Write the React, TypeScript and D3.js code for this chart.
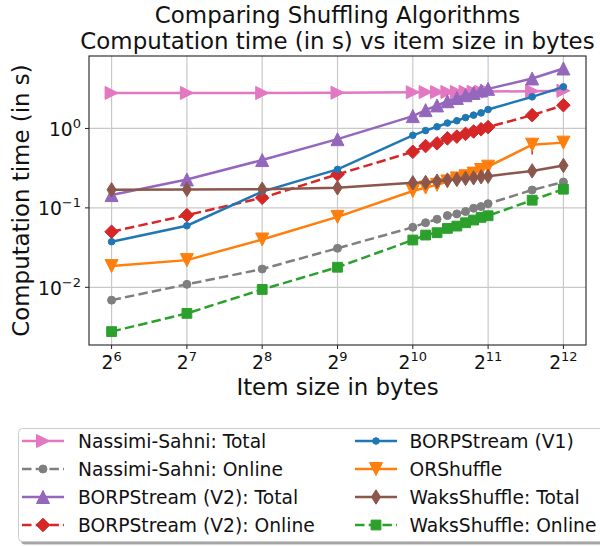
import React from "react";
import * as d3 from "d3";

const sizes = [64, 128, 256, 512, 1024, 1152, 1280, 1408, 1536, 1664, 1792, 1920, 2048, 3072, 4096];

const nsTotal = [2.8, 2.8, 2.8, 2.82, 2.86, 2.87, 2.87, 2.88, 2.88, 2.89, 2.9, 2.9, 2.91, 2.95, 2.98];
const nsOnline = [0.0069, 0.0109, 0.017, 0.031, 0.057, 0.065, 0.072, 0.08, 0.084, 0.09, 0.099, 0.104, 0.113, 0.168, 0.212];
const v2Total = [0.145, 0.228, 0.4, 0.733, 1.43, 1.7, 1.95, 2.2, 2.42, 2.62, 2.8, 3.0, 3.15, 4.26, 5.69];
const v2Online = [0.05, 0.081, 0.134, 0.264, 0.508, 0.6, 0.65, 0.75, 0.79, 0.855, 0.915, 0.975, 1.04, 1.47, 1.96];
const v1 = [0.0375, 0.0596, 0.16, 0.305, 0.82, 0.94, 1.05, 1.17, 1.25, 1.37, 1.47, 1.57, 1.73, 2.5, 3.34];
const orShuffle = [0.0185, 0.022, 0.04, 0.077, 0.163, 0.18, 0.195, 0.215, 0.235, 0.25, 0.27, 0.3, 0.33, 0.625, 0.663];
const wsTotal = [0.169, 0.171, 0.172, 0.179, 0.207, 0.209, 0.217, 0.224, 0.228, 0.235, 0.239, 0.246, 0.25, 0.292, 0.342];
const wsOnline = [0.00277, 0.0047, 0.0094, 0.0179, 0.0394, 0.0455, 0.0487, 0.0552, 0.059, 0.065, 0.0703, 0.076, 0.0796, 0.125, 0.172];

const errX = [3072];
const errLow = [0.47];
const errHigh = [0.76];

const xTickExps = [6, 7, 8, 9, 10, 11, 12];
const yTickExps = [-2, -1, 0];

const labels = [
  "Nassimi-Sahni: Total",
  "Nassimi-Sahni: Online",
  "BORPStream (V2): Total",
  "BORPStream (V2): Online",
  "BORPStream (V1)",
  "ORShuffle",
  "WaksShuffle: Total",
  "WaksShuffle: Online",
];

type MarkerKind = "right" | "circle" | "up" | "diamond" | "dot" | "down" | "thin" | "square";

const series: { label: string; values: number[]; color: string; dashed: boolean; marker: MarkerKind }[] = [
  { label: labels[0], values: nsTotal, color: "#e377c2", dashed: false, marker: "right" },
  { label: labels[1], values: nsOnline, color: "#7f7f7f", dashed: true, marker: "circle" },
  { label: labels[2], values: v2Total, color: "#9467bd", dashed: false, marker: "up" },
  { label: labels[3], values: v2Online, color: "#d62728", dashed: true, marker: "diamond" },
  { label: labels[4], values: v1, color: "#1f77b4", dashed: false, marker: "dot" },
  { label: labels[5], values: orShuffle, color: "#ff7f0e", dashed: false, marker: "down" },
  { label: labels[6], values: wsTotal, color: "#8c564b", dashed: false, marker: "thin" },
  { label: labels[7], values: wsOnline, color: "#2ca02c", dashed: true, marker: "square" },
];

function markerPath(kind: MarkerKind): string {
  const s = 13;
  const h = s / 2;
  switch (kind) {
    case "right":
      return `M${h},0L${-h},${-h}L${-h},${h}Z`;
    case "up":
      return `M0,${-h}L${h},${h}L${-h},${h}Z`;
    case "down":
      return `M0,${h}L${h},${-h}L${-h},${-h}Z`;
    case "diamond":
      return `M0,-6.8L6.8,0L0,6.8L-6.8,0Z`;
    case "thin":
      return `M0,-7.2L4.6,0L0,7.2L-4.6,0Z`;
    case "square":
      return `M-4.9,-4.9L4.9,-4.9L4.9,4.9L-4.9,4.9Z`;
    case "circle":
      return d3.symbol(d3.symbolCircle, Math.PI * 4 * 4)() as string;
    case "dot":
      return d3.symbol(d3.symbolCircle, Math.PI * 3.3 * 3.3)() as string;
  }
}

const FONT = "DejaVu Sans, Verdana, sans-serif";

export default function App() {
  const left = 89,
    right = 586,
    top = 56,
    bottom = 345;
  const x = d3.scaleLog().base(2).domain([Math.pow(2, 5.7), Math.pow(2, 12.3)]).range([left, right]);
  const y = d3.scaleLog().domain([Math.pow(10, -2.726), Math.pow(10, 0.912)]).range([bottom, top]);
  const line = d3
    .line<number>()
    .x((_, i) => x(sizes[i]))
    .y((d) => y(d));

  const dash = "9.5,4.2";
  const lw = 2.5;

  const legendRows = [441, 469, 497, 525];
  const legendCols = [
    { x0: 22, x1: 64, tx: 78 },
    { x0: 355, x1: 397, tx: 409.5 },
  ];

  return (
    <svg width={600} height={546} style={{ display: "block", position: "absolute", left: 0, top: 0 }} fontFamily={FONT}>
      <rect x={0} y={0} width={600} height={546} fill="white" />
      {/* grid */}
      {xTickExps.map((e) => (
        <line key={"gx" + e} x1={x(Math.pow(2, e))} x2={x(Math.pow(2, e))} y1={top} y2={bottom} stroke="#c8c8c8" strokeWidth={1.2} />
      ))}
      {yTickExps.map((e) => (
        <line key={"gy" + e} x1={left} x2={right} y1={y(Math.pow(10, e))} y2={y(Math.pow(10, e))} stroke="#c8c8c8" strokeWidth={1.2} />
      ))}
      {/* series */}
      {series.map((s, si) => (
        <g key={s.label}>
          {si === 5 &&
            errX.map((ex, i) => (
              <line key={"err" + i} x1={x(ex)} x2={x(ex)} y1={y(errLow[i])} y2={y(errHigh[i])} stroke="#d62728" strokeWidth={1.5} />
            ))}
          <path d={line(s.values) || ""} fill="none" stroke={s.color} strokeWidth={lw} strokeDasharray={s.dashed ? dash : undefined} />
          {s.values.map((v, i) => (
            <path key={i} d={markerPath(s.marker)} transform={`translate(${x(sizes[i])},${y(v)})`} fill={s.color} stroke={s.color} strokeWidth={1} />
          ))}
        </g>
      ))}
      {/* axes frame */}
      <rect x={left} y={top} width={right - left} height={bottom - top} fill="none" stroke="#222" strokeWidth={1.1} />
      {/* x ticks */}
      {xTickExps.map((e) => {
        const px = x(Math.pow(2, e));
        return (
          <g key={"xt" + e}>
            <line x1={px} x2={px} y1={bottom} y2={bottom + 4} stroke="#222" strokeWidth={1} />
            <text x={px} y={368.5} textAnchor="middle" fontSize={18.7} fill="#111">
              <tspan>2</tspan>
              <tspan dy={-8} fontSize={13}>
                {String(e)}
              </tspan>
            </text>
          </g>
        );
      })}
      {/* y ticks */}
      {yTickExps.map((e) => {
        const py = y(Math.pow(10, e));
        return (
          <g key={"yt" + e}>
            <line x1={left - 4} x2={left} y1={py} y2={py} stroke="#222" strokeWidth={1} />
            <text x={81} y={py + 7.5} textAnchor="end" fontSize={18.7} fill="#111">
              <tspan>10</tspan>
              <tspan dy={-8} fontSize={13}>
                {e < 0 ? "\u2212" + String(-e) : String(e)}
              </tspan>
            </text>
          </g>
        );
      })}
      {/* labels */}
      <text x={(left + right) / 2} y={23} textAnchor="middle" fontSize={22.9} fill="#111">
        Comparing Shuffling Algorithms
      </text>
      <text x={(left + right) / 2} y={48.5} textAnchor="middle" fontSize={22.9} fill="#111">
        Computation time (in s) vs item size in bytes
      </text>
      <text x={(left + right) / 2} y={395} textAnchor="middle" fontSize={22.9} fill="#111">
        Item size in bytes
      </text>
      <text transform={`translate(29,${(top + bottom) / 2}) rotate(-90)`} textAnchor="middle" fontSize={22.9} fill="#111">
        Computation time (in s)
      </text>
      {/* legend */}
      <rect x={21} y={431.5} width={600} height={113} rx={4} fill="#000" opacity={0.35} />
      <rect x={18.5} y={428.5} width={600} height={113} rx={4} fill="white" stroke="#cccccc" strokeWidth={1} />
      {series.map((s, i) => {
        const col = legendCols[Math.floor(i / 4)];
        const ry = legendRows[i % 4];
        const cx = (col.x0 + col.x1) / 2;
        return (
          <g key={"lg" + i}>
            <line x1={col.x0} x2={col.x1} y1={ry} y2={ry} stroke={s.color} strokeWidth={lw} strokeDasharray={s.dashed ? dash : undefined} />
            <path d={markerPath(s.marker)} transform={`translate(${cx},${ry})`} fill={s.color} stroke={s.color} strokeWidth={1} />
            <text x={col.tx} y={ry + 6.8} fontSize={18.7} fill="#111">
              {s.label}
            </text>
          </g>
        );
      })}
    </svg>
  );
}
